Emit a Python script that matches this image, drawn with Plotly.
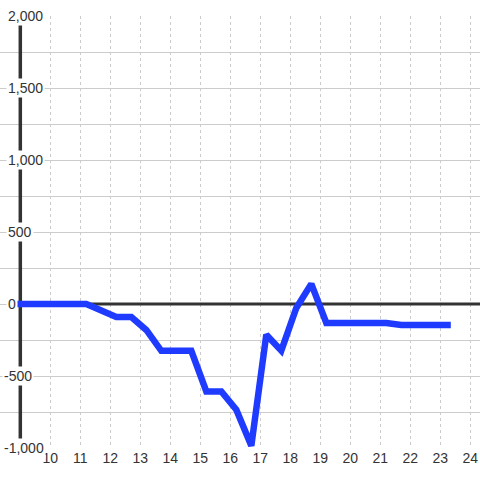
import plotly.graph_objects as go

# values
hours = [8.6, 11.2, 12.2, 12.7, 13.2, 13.7, 14.7, 15.2, 15.7, 16.2,
         16.7, 17.2, 17.7, 18.2, 18.7, 19.2, 21.2, 21.7, 23.35]
values = [0, 0, -90, -90, -180, -325, -325, -607, -607, -734,
          -985, -213, -324, -28, 140, -132, -132, -146, -146]

x_ticks = list(range(10, 25))
y_grid = list(range(-1000, 2001, 250))
y_labels = list(range(-1000, 2001, 500))

INK = "#333333"
GRID = "#cccccc"
FONT = "Liberation Sans, Arial, sans-serif"
W = 480

fig = go.Figure()
fig.add_trace(go.Scatter(
    x=hours,
    y=values,
    mode="lines",
    line=dict(color="#1f3bff", width=6.5),
    hoverinfo="skip",
))

# y tick labels sit on white boxes, hiding grid, axis and line behind them
for v in y_labels:
    left_px = 6 if v >= 0 else 1.5
    fig.add_annotation(
        x=left_px / W, xref="paper", xanchor="left",
        y=v, yref="y", yanchor="middle",
        text=f"{v:,}", showarrow=False,
        bgcolor="white", borderpad=1,
        font=dict(family=FONT, size=14, color=INK),
    )

fig.update_layout(
    width=W, height=480,
    margin=dict(l=0, r=0, t=16, b=32),
    paper_bgcolor="white", plot_bgcolor="white",
    showlegend=False,
    font=dict(family=FONT, size=14, color=INK),
    xaxis=dict(
        range=[8.323, 24.323],
        tickvals=x_ticks,
        ticks="",
        showgrid=True, gridcolor=GRID, griddash="3px,3px", gridwidth=1,
        zeroline=False, showline=False,
        tickfont=dict(family=FONT, size=14, color=INK),
    ),
    yaxis=dict(
        range=[-1000, 2000],
        tickvals=y_grid,
        showticklabels=False,
        showgrid=True, gridcolor=GRID, gridwidth=1,
        zeroline=False, showline=False,
    ),
    shapes=[
        # no grid left of the axis line
        dict(type="rect", xref="paper", yref="paper", x0=0, x1=20 / W, y0=0, y1=1,
             fillcolor="white", line=dict(width=0), layer="between"),
        # y axis line
        dict(type="line", xref="x", yref="y", x0=9, x1=9, y0=-1000, y1=2000,
             line=dict(color=INK, width=3.5), layer="between"),
        # zero line
        dict(type="line", xref="x", yref="y", x0=9, x1=24.323, y0=0, y1=0,
             line=dict(color=INK, width=3), layer="between"),
    ],
)

fig.write_html("out.html", config={"displayModeBar": False},
               post_script="document.body.style.margin = '0';")
